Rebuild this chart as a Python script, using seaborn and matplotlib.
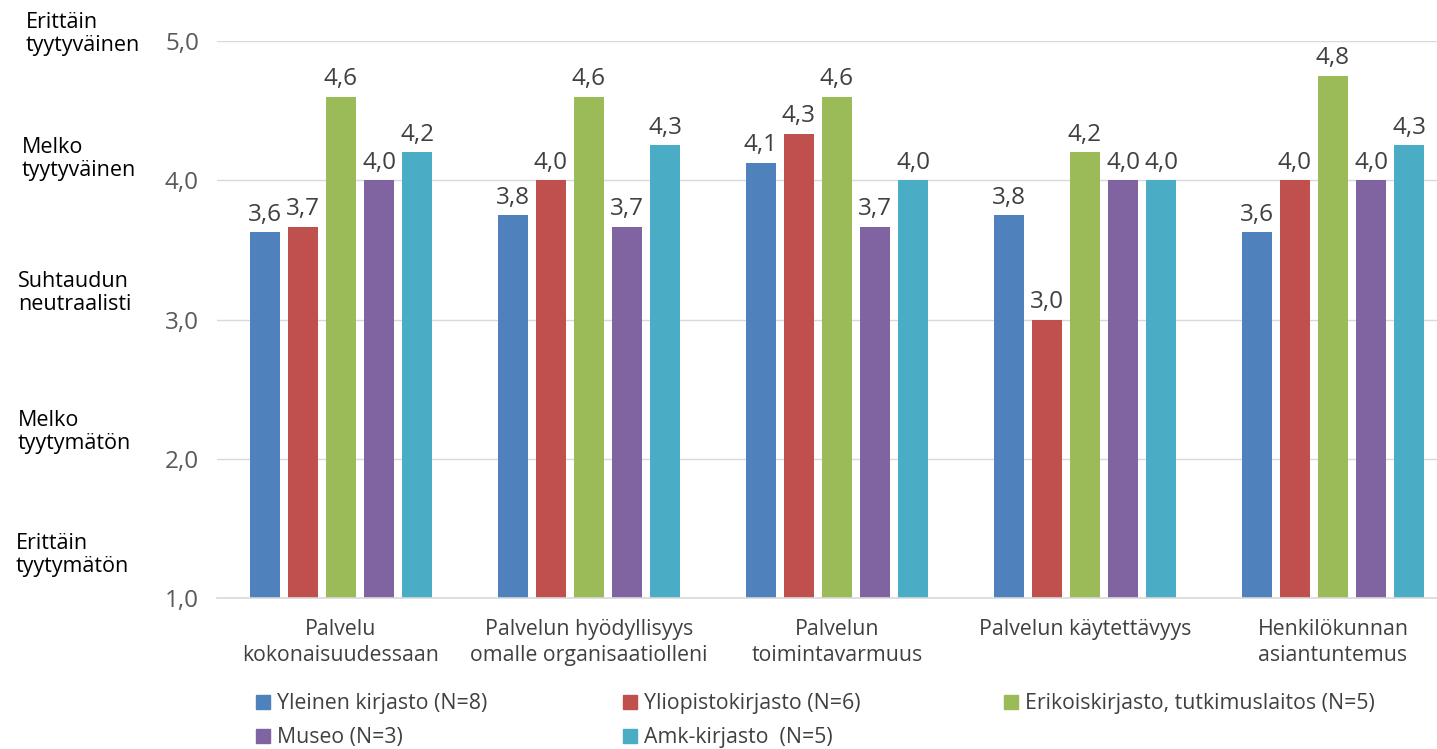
import numpy as np
import pandas as pd
import matplotlib
matplotlib.use("Agg")
import matplotlib.pyplot as plt
import matplotlib.transforms as mtransforms
from matplotlib.lines import Line2D
import seaborn as sns
from decimal import Decimal, ROUND_HALF_UP

# ---------------- data ----------------
categories = [
    "Palvelu\nkokonaisuudessaan",
    "Palvelun hyödyllisyys\nomalle organisaatiolleni",
    "Palvelun\ntoimintavarmuus",
    "Palvelun käytettävyys",
    "Henkilökunnan\nasiantuntemus",
]
series = [
    "Yleinen kirjasto (N=8)",
    "Yliopistokirjasto (N=6)",
    "Erikoiskirjasto, tutkimuslaitos (N=5)",
    "Museo (N=3)",
    "Amk-kirjasto  (N=5)",
]
yleinen = [3.625, 3.75, 4.125, 3.75, 3.625]
yliopisto = [3.667, 4.0, 4.333, 3.0, 4.0]
erikois = [4.6, 4.6, 4.6, 4.2, 4.75]
museo = [4.0, 3.667, 3.667, 4.0, 4.0]
amk = [4.2, 4.25, 4.0, 4.0, 4.25]
colors = ["#4F81BD", "#C0504D", "#9BBB59", "#8064A2", "#4BACC6"]

ytick_values = [1, 2, 3, 4, 5]
ytick_labels = ["1,0", "2,0", "3,0", "4,0", "5,0"]
scale_labels = ["Erittäin\ntyytymätön", "Melko\ntyytymätön", "Suhtaudun\nneutraalisti",
                "Melko\ntyytyväinen", "Erittäin\ntyytyväinen"]

all_values = [yleinen, yliopisto, erikois, museo, amk]

df = pd.DataFrame({
    "category": np.tile(categories, len(series)),
    "series": np.repeat(series, len(categories)),
    "value": np.concatenate(all_values),
})

# ---------------- style ----------------
sns.set_style("white")
plt.rcParams["font.family"] = ["Open Sans", "DejaVu Sans"]

W, H = 1437, 749
fig = plt.figure(figsize=(W / 100, H / 100), dpi=100)
ax = fig.add_axes([217 / W, 151 / H, 1240 / W, 557 / H])

sns.barplot(data=df, x="category", y="value", hue="series",
            order=categories, hue_order=series, palette=colors,
            saturation=1, width=0.77, gap=0.21, errorbar=None,
            linewidth=0, legend=False, ax=ax)

def fmt(v):
    return str(Decimal(str(v)).quantize(Decimal("0.1"), rounding=ROUND_HALF_UP)).replace(".", ",")

for cont, vals in zip(ax.containers, all_values):
    ax.bar_label(cont, labels=[fmt(v) for v in vals], padding=4,
                 fontsize=17.5, color="#404040")

ax.set_ylim(1, 5)
ax.set_yticks(ytick_values)
ax.set_yticklabels(ytick_labels)
ax.set_xlabel("")
ax.set_ylabel("")
ax.yaxis.grid(True, color="#D9D9D9", linewidth=1)
ax.set_axisbelow(True)
for s in ["top", "right", "left"]:
    ax.spines[s].set_visible(False)
ax.spines["bottom"].set_color("#D9D9D9")
ax.spines["bottom"].set_linewidth(1.2)
ax.tick_params(axis="y", length=0, pad=13, labelsize=17.5, labelcolor="#595959")
ax.tick_params(axis="x", length=0, pad=15, labelsize=15.3, labelcolor="#404040")
for lbl in ax.get_xticklabels():
    lbl.set_linespacing(1.3)

# scale labels on the left
trans = mtransforms.blended_transform_factory(fig.transFigure, ax.transData)
label_y = [1.31, 2.19, 3.19, 4.15, 5.05]
label_x = [16, 18, 18, 22, 26]
for txt, yy, xx in zip(scale_labels, label_y, label_x):
    ax.text(xx / W, yy, txt, transform=trans, ha="left", va="center",
            fontsize=15.5, color="#000000", linespacing=1.12, clip_on=False)

# legend: three columns as separate legends
handles = [Line2D([], [], marker="s", linestyle="", markersize=10, color=c) for c in colors]
cols = [[0, 3], [1, 4], [2]]
col_x = [256, 623, 1004]
for idx, xx in zip(cols, col_x):
    fig.legend([handles[i] for i in idx], [series[i] for i in idx],
               loc="upper left", bbox_to_anchor=(xx / W, 1 - 693 / H),
               frameon=False, fontsize=15.3, handlelength=0.7,
               handletextpad=0.28, labelspacing=0.62, borderpad=0,
               borderaxespad=0, labelcolor="#404040")

fig.savefig("out.png", dpi=100)
